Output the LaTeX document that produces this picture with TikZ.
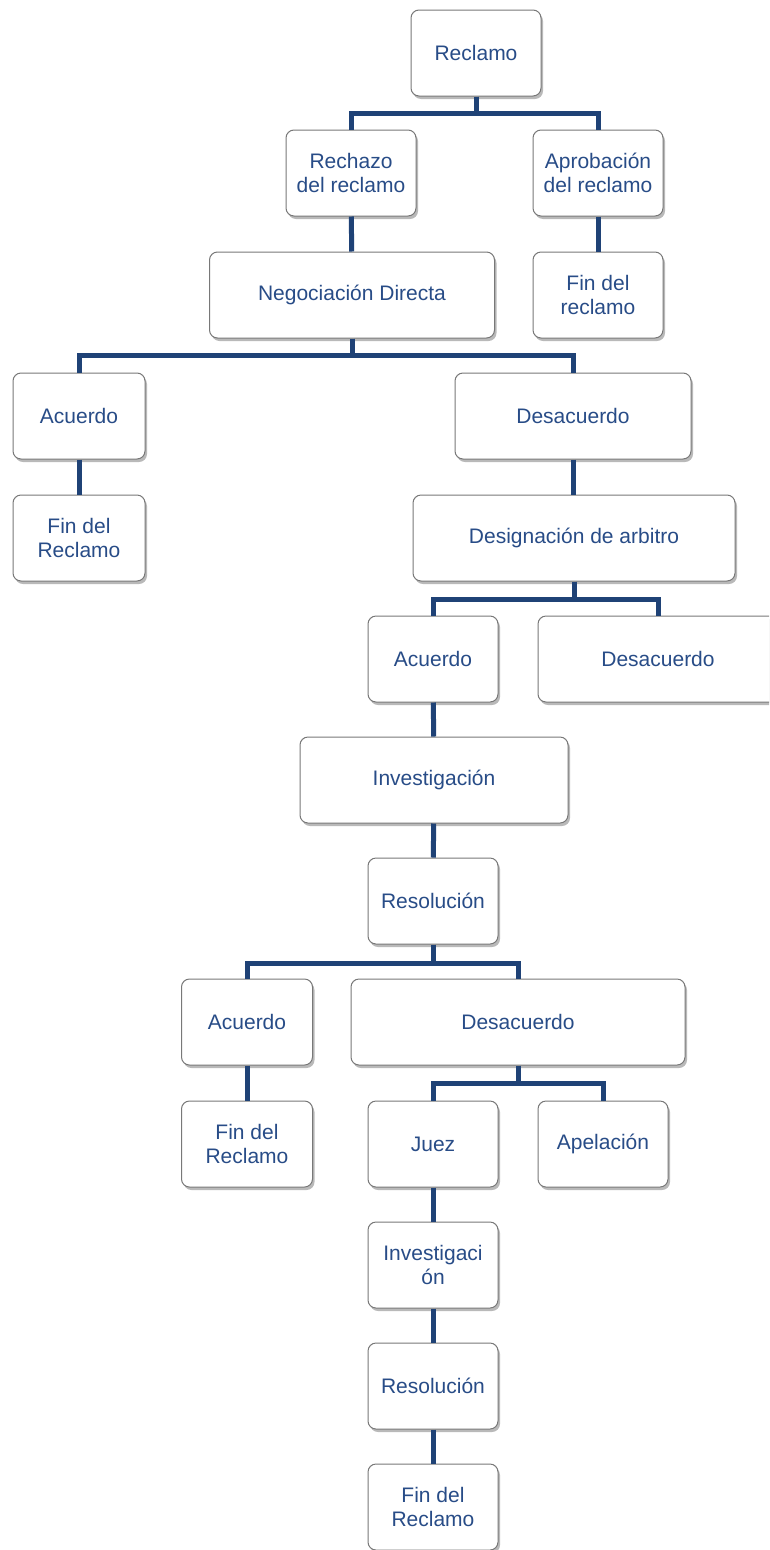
\documentclass[tikz,border=0pt]{standalone}
\usepackage{fontspec}
\setmainfont{Liberation Sans}
\usetikzlibrary{calc,positioning,shadows}
\definecolor{txtblue}{RGB}{40,76,135}
\definecolor{lineblue}{RGB}{31,66,118}
\definecolor{boxgray}{RGB}{120,120,120}

\begin{document}
\begin{tikzpicture}[x=1pt,y=-1pt,box/.style={draw=boxgray,line width=1pt,fill=white,rounded corners=8pt,align=center,text=txtblue,font=\fontsize{21}{24}\selectfont,inner sep=0pt,minimum height=86pt,minimum width=130pt,drop shadow={shadow xshift=2pt,shadow yshift=-3pt,fill=gray,opacity=.55}},link/.style={draw=lineblue,line width=5pt}]
  \clip (0,0) rectangle (769,1550);
  \node[box] (reclamo) at (476,53) {Reclamo};
  \node[box] (rechazo) at (351,173) {Rechazo\\del reclamo};
  \node[box] (aprob) at (598,173) {Aprobación\\del reclamo};
  \node[box,minimum width=285pt] (negoc) at (352,295) {Negociación Directa};
  \node[box] (finA) at (598,295) {Fin del\\reclamo};

  \node[box,minimum width=132pt] (acuerdoA) at (79,416) {Acuerdo};
  \node[box,minimum width=236pt] (desacA) at (573,416) {Desacuerdo};
  \node[box,minimum width=132pt] (finB) at (79,538) {Fin del\\Reclamo};
  \node[box,minimum width=322pt] (design) at (574,538) {Designación de arbitro};

  \node[box] (acuerdoB) at (433,659) {Acuerdo};
  \node[box,minimum width=240pt] (desacB) at (658,659) {Desacuerdo};
  \node[box,minimum width=268pt] (investA) at (434,780) {Investigación};
  \node[box] (resolA) at (433,901) {Resolución};

  \node[box,minimum width=131pt] (acuerdoC) at (247,1022) {Acuerdo};
  \node[box,minimum width=334pt] (desacC) at (518,1022) {Desacuerdo};
  \node[box,minimum width=131pt] (finC) at (247,1144) {Fin del\\Reclamo};
  \node[box] (juez) at (433,1144) {Juez};
  \node[box] (apel) at (603,1144) {Apelación};
  \node[box] (investB) at (433,1265) {Investigaci\\ón};
  \node[box] (resolB) at (433,1386) {Resolución};
  \node[box] (finD) at (433,1507) {Fin del\\Reclamo};

  \draw[link] (reclamo.south) -- ++(0,17) -| (rechazo.north);
  \draw[link] (reclamo.south) -- ++(0,17) -| (aprob.north);
  \draw[link] (rechazo) -- (negoc);
  \draw[link] (aprob) -- (finA);
  \draw[link] (negoc.south) -- ++(0,17) -| (acuerdoA.north);
  \draw[link] (negoc.south) -- ++(0,17) -| (desacA.north);
  \draw[link] (acuerdoA) -- (finB);
  \draw[link] (desacA.south) -- (desacA.south|-design.north);
  \draw[link] (design.south) -- ++(0,18) -| (acuerdoB.north);
  \draw[link] (design.south) -- ++(0,18) -| (desacB.north);
  \draw[link] (acuerdoB) -- (investA);
  \draw[link] (investA) -- (resolA);
  \draw[link] (resolA.south) -- ++(0,19) -| (acuerdoC.north);
  \draw[link] (resolA.south) -- ++(0,19) -| (desacC.north);
  \draw[link] (acuerdoC) -- (finC);
  \draw[link] (desacC.south) -- ++(0,18) -| (juez.north);
  \draw[link] (desacC.south) -- ++(0,18) -| (apel.north);
  \draw[link] (juez) -- (investB);
  \draw[link] (investB) -- (resolB);
  \draw[link] (resolB) -- (finD);
\end{tikzpicture}
\end{document}
